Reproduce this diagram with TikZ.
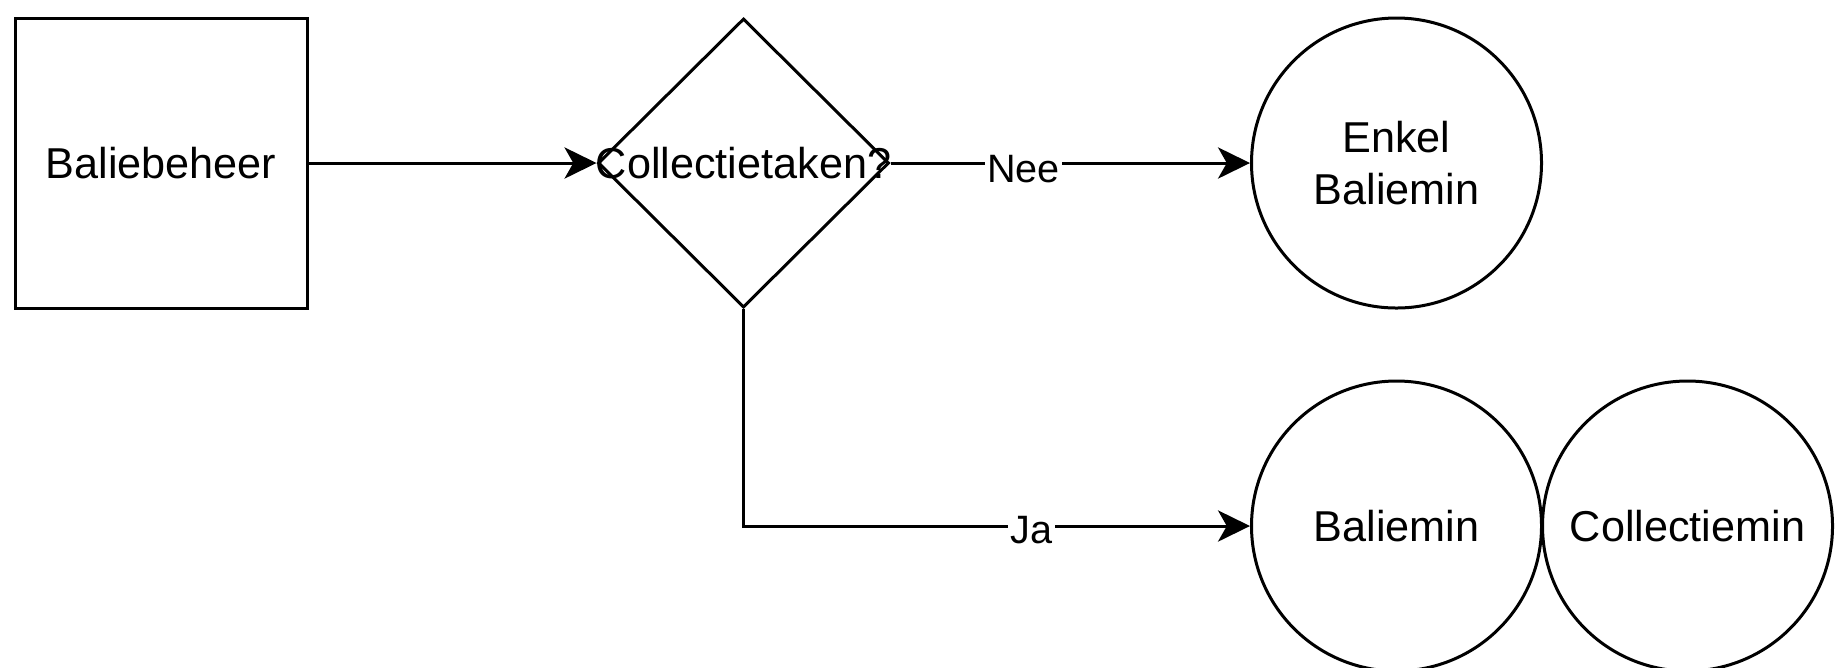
\documentclass[tikz,border=0pt]{standalone}
\usepackage{fontspec}
\setmainfont{Liberation Sans}
\usetikzlibrary{shapes.geometric,arrows.meta}
\begin{document}
\begin{tikzpicture}[x=0.25pt,y=-0.25pt]
        \tikzstyle{tekst}=[font=\fontsize{10.8}{13.2}\selectfont]
        \tikzstyle{box}=[draw, line width=0.75pt, minimum width=73pt,
            minimum height=72.5pt, inner sep=0pt, tekst]
        \tikzstyle{keuze}=[draw, diamond, line width=0.75pt, minimum width=72.75pt,
            minimum height=72.25pt, inner sep=0pt]
        \tikzstyle{rol}=[draw, circle, line width=0.75pt, minimum size=72.5pt,
            inner sep=0pt, align=center, tekst]
        \tikzstyle{pijl}=[line width=0.75pt, -{Stealth[length=8pt,width=7.8pt,inset=2.2pt]}]
        \tikzstyle{keus}=[fill=white, inner sep=0.6pt, font=\fontsize{9.9}{12}\selectfont]
        \useasboundingbox (0,0) rectangle (1838,667);

        \node[box] (beheer) at (161, 163) {Baliebeheer};
        \node[keuze, label={[tekst, inner sep=0pt]center:Collectietaken?}] (vraag) at (743.5, 163) {};
        \node[rol] (enkel) at (1396.5, 163) {Enkel\\Baliemin};
        \node[rol] (balie) at (1396.5, 526) {Baliemin};
        \node[rol] (collectie) at (1687.5, 526) {Collectiemin};

        \draw[pijl] (beheer) to (vraag.west);
        \draw[pijl] (vraag.east) to node[keus, pos=0.37, yshift=-1.5pt] {Nee} (enkel);
        \draw[pijl] (vraag.south) |- node[keus, pos=0.784, yshift=-1pt] {Ja} (balie);

    \end{tikzpicture}
\end{document}
